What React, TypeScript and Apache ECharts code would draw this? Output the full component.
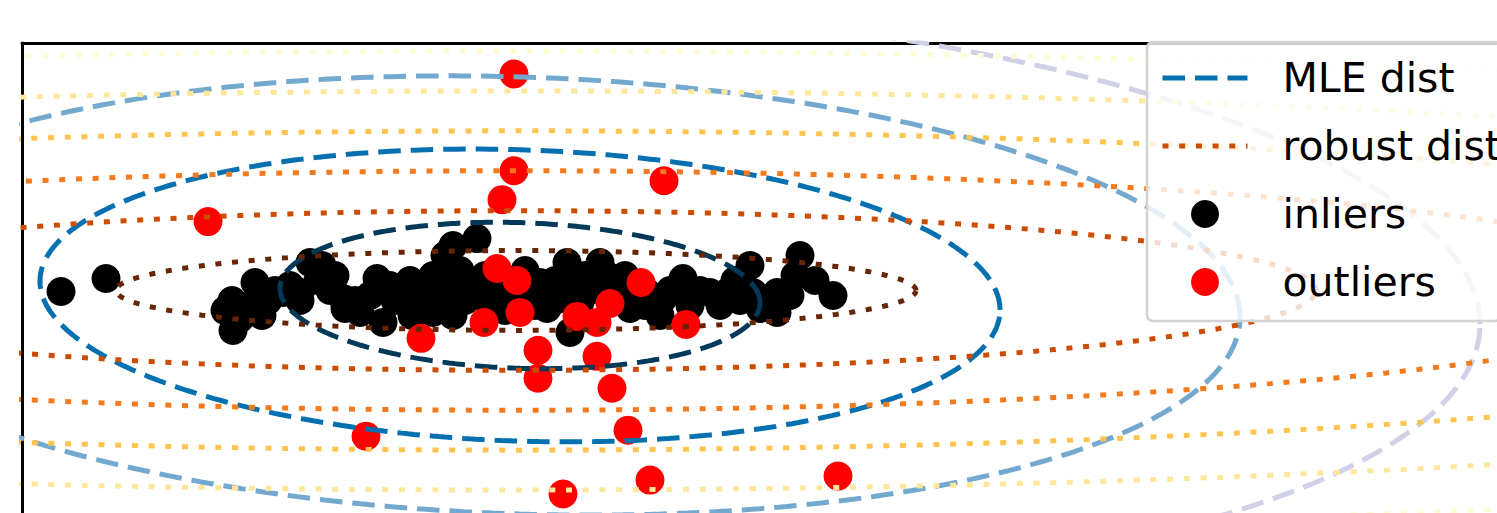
import React, { useEffect, useRef } from "react";
import * as echarts from "echarts";

// Axis ranges (data units); ticks are hidden like the original figure
const xRange = [-10, 19.5];
const yRange = [-10.95, 12.6];

// Inliers (black)
const inlierX = [
  -9.22, -8.32, -5.8, -5.78, -5.64, -5.34, -5.44, -5.08, -4.78, -4.64, -4.44, -4.24, -4.08, -4.0, -4.44,
  -3.58, -3.54, -3.34, -3.24, -2.9, -2.78, -2.54, -2.3, -2.2, -2.24, -1.78, -1.78, -1.54, -1.58, -1.38,
  -1.44, -1.38, -1.14, -0.98, -0.9, -0.44, -0.64, -0.14, 0.16, 0.36, 0.5, 0.66, 0.9, 1.02, 0.96, 1.16,
  1.56, 1.7, 1.36, 1.96, 2.16, 2.5, 2.76, 2.82, 3.22, 3.56, 3.76, 4.1, 3.96, 4.56, 4.62, 4.76, 5.1, 5.1,
  5.56, 5.86, 6.22, 0.06, 0.66, 2.06, 3.36,
  -5.94, -5.2, -4.94, -3.84, -3.74, -3.04, -2.64, -2.04, -1.94, -1.24, -0.74, -0.34, 0.26, 0.76, 1.26,
  1.76, 2.46, 2.96, 4.26, 4.36, 5.36, 5.46,
];
const inlierY = [
  0.15, 0.8, -0.3, -1.8, -1.2, 0.6, -0.55, -0.3, 0.1, 0.45, 0.1, 1.6, 0.7, 1.45, -0.3,
  -0.2, -0.7, -0.3, -0.9, 0.8, -1.4, -0.3, -0.05, -1.05, 0.7, 0.95, -0.9, 1.95, 0.1, 2.45,
  0.45, -1.05, -0.3, 0.1, 2.8, 0.1, -0.55, -0.05, 0.2, 0.6, -0.7, -0.3, 1.6, 0.95, -1.9, -0.4,
  1.6, 0.95, 0.2, -0.05, -0.7, 0.1, -1.05, -0.2, 0.8, 0.2, 0.1, 0.1, -0.55, 1.45, 0.1, -0.7, 0.1, -0.9,
  1.95, 0.7, -0.05, 1.2, 0.7, 0.95, -0.55,
  -0.8, -1.05, 0.2, 0.2, 0.95, -0.05, 0.45, -0.3, 0.45, 1.2, 0.95, -0.8, -0.55, 0.2, 0.95,
  0.45, -0.55, 0.2, 0.7, -0.3, -0.05, 0.95,
];

// Outliers (red)
const outlierX = [
  -0.16, -0.16, 2.84, -0.4, -6.28, -0.5, -0.1, 2.38, 1.76, -0.04, 1.1, 1.5, -0.76, 3.28, -2.02, 0.32,
  1.5, 0.32, 1.8, 2.12, -3.12, 2.56, 6.32, 0.82,
];
const outlierY = [
  11.05, 6.2, 5.7, 4.75, 3.65, 1.3, 0.7, 0.6, -0.45, -0.9, -1.1, -1.4, -1.4, -1.5, -2.2, -2.8,
  -3.1, -4.2, -4.7, -6.8, -7.1, -9.3, -9.1, -10.0,
];

// MLE covariance contours: centre, semi-axes per level, shear (correlation) term
const mleCenter = [-0.04, -0.05];
const mleAxes = [4.8, 3.65];
const mleShear = -0.075;
const mleLevels = [1, 2, 3, 4];
const mleColors = ["#023858", "#0570b0", "#74a9cf", "#d0d1e6"];

// Robust (MCD) covariance contours
const robustCenter = [-0.12, 0.2];
const robustAxes = [8, 2];
const robustShear = 0;
const robustLevels = [1, 2, 3, 4, 5, 6];
const robustColors = ["#662506", "#cc4c02", "#f47a1e", "#fec44f", "#fee79a", "#fffbd2"];

const legendNames = ["MLE dist", "robust dist", "inliers", "outliers"];

const MLE_DASH = [22.5, 10];
const ROBUST_DASH = [6, 10.7];

function contour(center: number[], axes: number[], shear: number, level: number) {
  const pts: number[][] = [];
  const n = 480;
  for (let i = 0; i <= n; i++) {
    const t = (i / n) * 2 * Math.PI;
    const u = Math.cos(t);
    const v = Math.sin(t);
    pts.push([
      center[0] + level * axes[0] * u,
      center[1] + level * (axes[1] * v + shear * axes[0] * u),
    ]);
  }
  return pts;
}

export default function App() {
  const ref = useRef<HTMLDivElement>(null);
  useEffect(() => {
    if (!ref.current) return;
    const chart = echarts.init(ref.current, null, { renderer: "svg" });

    const inliers = inlierX.map((x, i) => [x, inlierY[i]]);
    const outliers = outlierX.map((x, i) => [x, outlierY[i]]);

    const mleSeries = mleLevels.map((lv, i) => ({
      name: i === 1 ? legendNames[0] : `MLE level ${lv}`,
      type: "line",
      data: contour(mleCenter, mleAxes, mleShear, lv),
      symbol: "none",
      showSymbol: false,
      silent: true,
      z: 3,
      lineStyle: { color: mleColors[i], width: 5, type: MLE_DASH },
      itemStyle: { color: mleColors[i] },
    }));
    const robustSeries = robustLevels.map((lv, i) => ({
      name: i === 1 ? legendNames[1] : `robust level ${lv}`,
      type: "line",
      data: contour(robustCenter, robustAxes, robustShear, lv),
      symbol: "none",
      showSymbol: false,
      silent: true,
      z: 3,
      lineStyle: { color: robustColors[i], width: 5, type: ROBUST_DASH },
      itemStyle: { color: robustColors[i] },
    }));

    chart.setOption({
      animation: false,
      grid: { left: 22, top: 43, right: 0, bottom: 0 },
      xAxis: {
        type: "value",
        position: "top",
        min: xRange[0],
        max: xRange[1],
        axisLine: { show: true, onZero: false, lineStyle: { color: "#000", width: 3 } },
        axisTick: { show: false },
        axisLabel: { show: false },
        splitLine: { show: false },
      },
      yAxis: {
        type: "value",
        min: yRange[0],
        max: yRange[1],
        axisLine: { show: true, onZero: false, lineStyle: { color: "#000", width: 3 } },
        axisTick: { show: false },
        axisLabel: { show: false },
        splitLine: { show: false },
      },
      legend: {
        orient: "vertical",
        left: 1147,
        top: 42,
        padding: [13, 0, 16, 13],
        itemWidth: 85,
        itemHeight: 28,
        itemGap: 22,
        backgroundColor: "rgba(255,255,255,0.8)",
        borderColor: "#d2d2d2",
        borderWidth: 2.5,
        borderRadius: 6,
        selectedMode: false,
        textStyle: {
          fontFamily: "DejaVu Sans",
          fontSize: 41,
          color: "#000",
          lineHeight: 46,
          padding: [0, 0, 0, 30],
        },
        data: [
          {
            name: legendNames[0],
            itemStyle: { opacity: 0 },
            lineStyle: { width: 5, type: MLE_DASH, color: mleColors[1] },
          },
          {
            name: legendNames[1],
            itemStyle: { opacity: 0 },
            lineStyle: { width: 5, type: ROBUST_DASH, color: robustColors[1] },
          },
          { name: legendNames[2] },
          { name: legendNames[3] },
        ],
      },
      series: [
        {
          name: legendNames[2],
          type: "scatter",
          data: inliers,
          symbolSize: 29,
          itemStyle: { color: "#000000", opacity: 1 },
          z: 2,
          silent: true,
        },
        {
          name: legendNames[3],
          type: "scatter",
          data: outliers,
          symbolSize: 29,
          itemStyle: { color: "#ff0000", opacity: 1 },
          z: 2,
          silent: true,
        },
        ...mleSeries,
        ...robustSeries,
      ],
    });
    return () => chart.dispose();
  }, []);
  return (
    <div
      ref={ref}
      style={{ position: "fixed", left: 0, top: 0, width: 1497, height: 513, background: "#fff" }}
    />
  );
}
